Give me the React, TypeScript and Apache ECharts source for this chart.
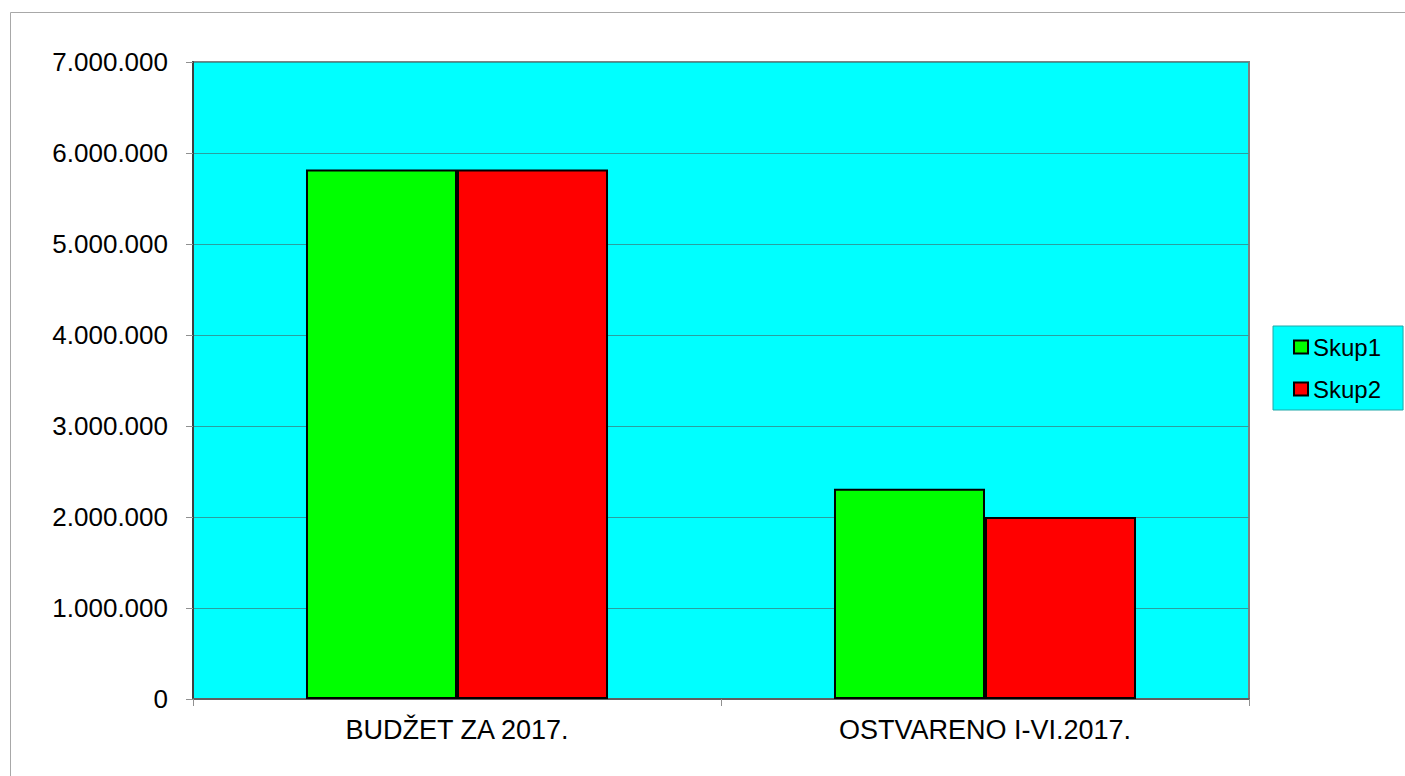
import React, { useEffect, useRef } from "react";
import * as echarts from "echarts";

const categories = ["BUDŽET ZA 2017.", "OSTVARENO I-VI.2017."];
const seriesNames = ["Skup1", "Skup2"];
const skup1 = [5820000, 2310000];
const skup2 = [5820000, 2000000];
const yTicks = { min: 0, max: 7000000, interval: 1000000 };

const FONT = 'Arial, "Liberation Sans", sans-serif';

function fmt(v: number): string {
  return String(Math.round(v)).replace(/\B(?=(\d{3})+(?!\d))/g, ".");
}

export default function App() {
  const ref = useRef<HTMLDivElement>(null);
  useEffect(() => {
    if (!ref.current) return;
    const chart = echarts.init(ref.current, undefined, { renderer: "svg" });
    chart.setOption({
      animation: false,
      backgroundColor: "#ffffff",
      textStyle: { fontFamily: FONT },
      graphic: [
        {
          type: "rect",
          shape: { x: 10.5, y: 12.5, width: 1420, height: 800 },
          style: { fill: "none", stroke: "#a8a8a8", lineWidth: 1 },
          silent: true,
          z: -10,
        },
      ],
      grid: {
        left: 193,
        top: 62,
        right: 156,
        bottom: 77,
        show: true,
        backgroundColor: "#00ffff",
        borderColor: "#808080",
        borderWidth: 2,
      },
      legend: {
        orient: "vertical",
        left: 1273,
        top: 326,
        padding: [9, 22, 9, 20],
        backgroundColor: "#00ffff",
        borderColor: "#20a8a8",
        borderWidth: 1,
        itemWidth: 14,
        itemHeight: 13,
        itemGap: 18,
        icon: "rect",
        textStyle: { fontSize: 24, color: "#000", fontFamily: FONT },
        data: seriesNames,
      },
      xAxis: {
        type: "category",
        data: categories,
        axisLine: { show: true, lineStyle: { color: "#606060", width: 2 } },
        axisTick: { show: true, length: 7, lineStyle: { color: "#909090" } },
        axisLabel: { fontSize: 27, color: "#000", margin: 17, fontFamily: FONT },
        splitLine: { show: false },
      },
      yAxis: {
        type: "value",
        min: yTicks.min,
        max: yTicks.max,
        interval: yTicks.interval,
        axisLine: { show: true, lineStyle: { color: "#404040", width: 2 } },
        axisTick: { show: true, length: 7, lineStyle: { color: "#909090" } },
        axisLabel: {
          fontSize: 26,
          color: "#000",
          margin: 25,
          fontFamily: FONT,
          formatter: (v: number) => fmt(v),
        },
        splitLine: { show: true, lineStyle: { color: "#2aa0a0", width: 1 } },
      },
      series: [
        {
          name: seriesNames[0],
          type: "bar",
          data: skup1,
          barGap: "0%",
          barCategoryGap: "42.8%",
          itemStyle: { color: "#00ff00", borderColor: "#000", borderWidth: 2 },
        },
        {
          name: seriesNames[1],
          type: "bar",
          data: skup2,
          barGap: "0%",
          barCategoryGap: "42.8%",
          itemStyle: { color: "#ff0000", borderColor: "#000", borderWidth: 2 },
        },
      ],
    });
    return () => chart.dispose();
  }, []);
  return (
    <div
      ref={ref}
      style={{ position: "fixed", left: 0, top: 0, width: 1405, height: 776 }}
    />
  );
}
